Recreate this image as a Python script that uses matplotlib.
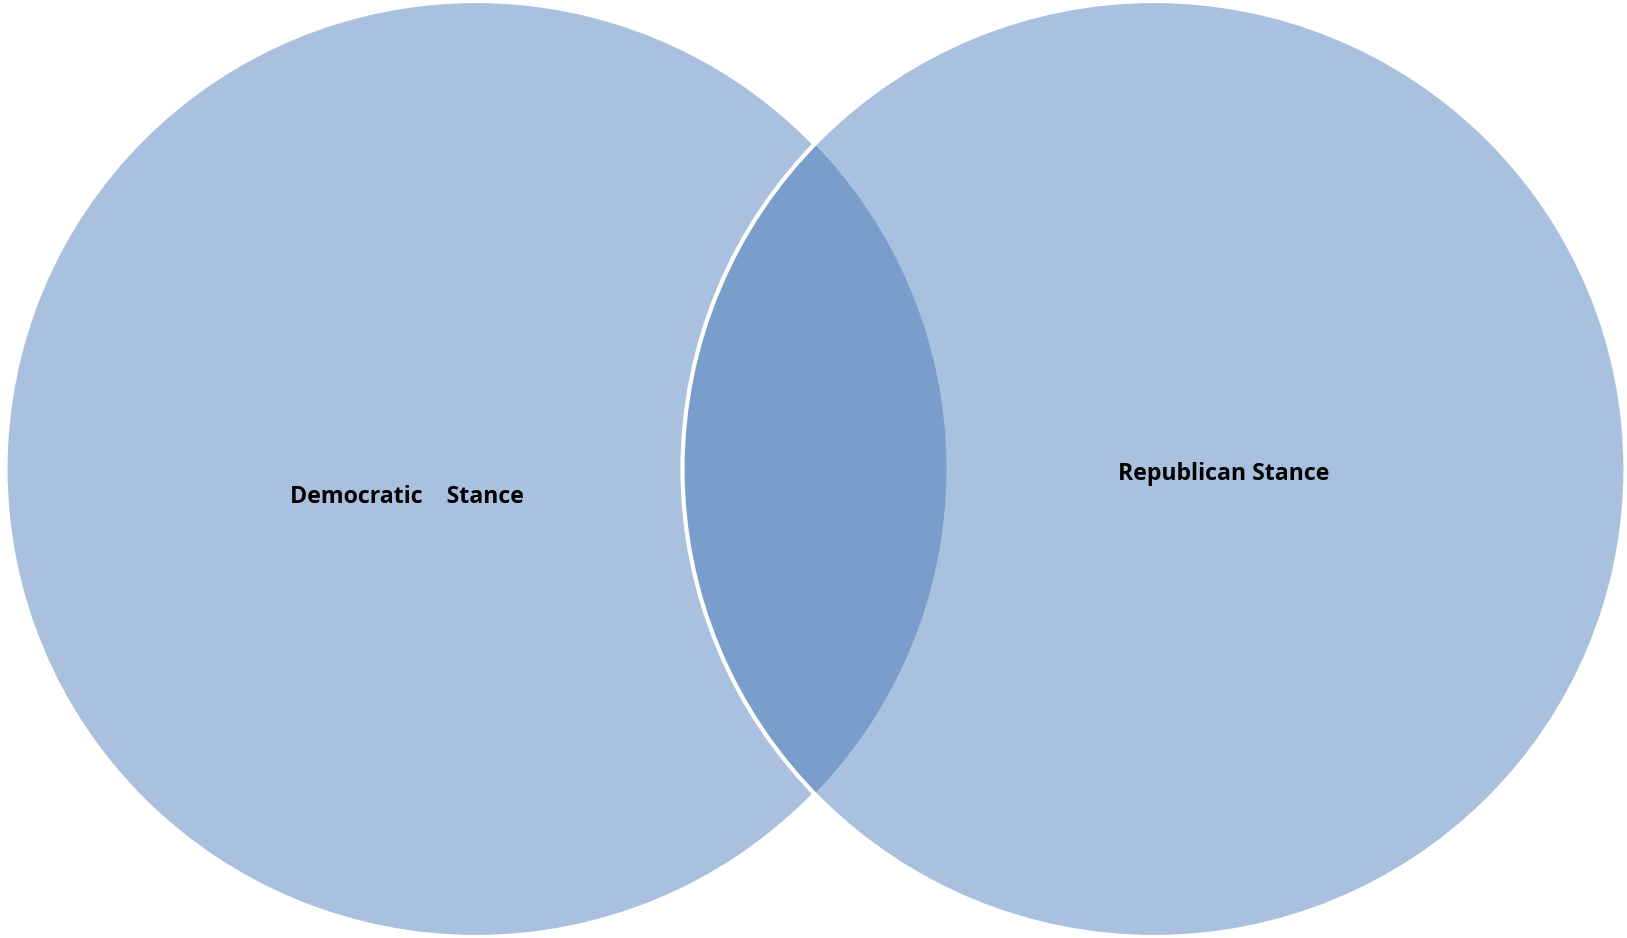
import matplotlib.pyplot as plt
from matplotlib.patches import Ellipse

# two sets of the diagram
labels = ['Democratic    Stance', 'Republican Stance']

light = '#a9c1df'
dark = '#7a9ecb'

fig = plt.figure(figsize=(16.27, 9.38), dpi=100)
ax = fig.add_axes([0, 0, 1, 1])
ax.set_xlim(0, 1627)
ax.set_ylim(938, 0)
ax.axis('off')

# circle geometry in pixel units
centers = [(476, 469), (1154, 469)]
widths = [941, 943]
height = 936

left = Ellipse(centers[0], widths[0], height, facecolor=light, edgecolor='white', lw=3, zorder=1)
right = Ellipse(centers[1], widths[1], height, facecolor=light, edgecolor='none', zorder=2)
ax.add_patch(left)
ax.add_patch(right)

# overlap, darker
lens = Ellipse(centers[1], widths[1], height, facecolor=dark, edgecolor='none', zorder=3)
ax.add_patch(lens)
lens.set_clip_path(Ellipse(centers[0], widths[0], height, transform=ax.transData))

# white outline of the right circle on top
ring = Ellipse(centers[1], widths[1], height, facecolor='none', edgecolor='white', lw=3, zorder=4)
ax.add_patch(ring)

ax.text(407, 497, labels[0], ha='center', va='center', fontsize=16.7, fontweight='bold',
        family='Open Sans', color='black', zorder=5)
ax.text(1224, 474, labels[1], ha='center', va='center', fontsize=16.7, fontweight='bold',
        family='Open Sans', color='black', zorder=5)

plt.savefig('out.png', dpi=100)
